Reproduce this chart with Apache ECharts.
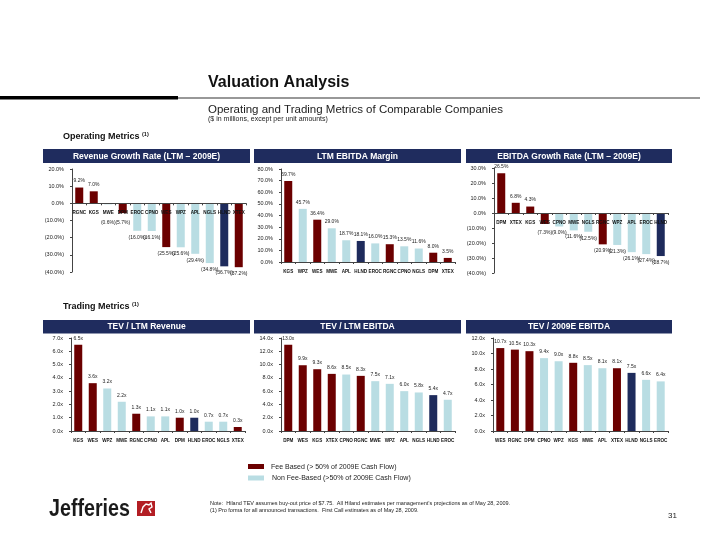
<!DOCTYPE html>
<html><head><meta charset="utf-8">
<script src="https://cdn.jsdelivr.net/npm/echarts@6/dist/echarts.min.js"></script>
<style>html,body{margin:0;padding:0;background:#fff}#c{width:720px;height:556px}</style>
</head><body><div id="c"></div>
<script>
// ---- data ----
const feeBased = ['RGNC','KGS','DPM','WES','XTEX'];
const subjectCo = ['HLND'];

const revGrowthCats = ['RGNC','KGS','MWE','DPM','EROC','CPNO','WES','WPZ','APL','NGLS','HLND','XTEX'];
const revGrowthVals = [9.2,7.0,-0.6,-5.7,-16.0,-16.1,-25.5,-25.6,-29.4,-34.8,-36.7,-37.2];
const marginCats = ['KGS','WPZ','WES','MWE','APL','HLND','EROC','RGNC','CPNO','NGLS','DPM','XTEX'];
const marginVals = [69.7,45.7,36.4,29.0,18.7,18.1,16.0,15.3,13.5,11.6,8.0,3.5];
const ebitdaGrowthCats = ['DPM','XTEX','KGS','WES','CPNO','MWE','NGLS','RGNC','WPZ','APL','EROC','HLND'];
const ebitdaGrowthVals = [26.5,6.8,4.3,-7.3,-9.0,-11.6,-12.5,-20.9,-21.3,-26.1,-27.4,-28.7];
const tevRevCats = ['KGS','WES','WPZ','MWE','RGNC','CPNO','APL','DPM','HLND','EROC','NGLS','XTEX'];
const tevRevVals = [6.5,3.6,3.2,2.2,1.3,1.1,1.1,1.0,1.0,0.7,0.7,0.3];
const tevLtmCats = ['DPM','WES','KGS','XTEX','CPNO','RGNC','MWE','WPZ','APL','NGLS','HLND','EROC'];
const tevLtmVals = [13.0,9.9,9.3,8.6,8.5,8.3,7.5,7.1,6.0,5.8,5.4,4.7];
const tev09Cats = ['WES','RGNC','DPM','CPNO','WPZ','KGS','MWE','APL','XTEX','HLND','NGLS','EROC'];
const tev09Vals = [10.7,10.5,10.3,9.4,9.0,8.8,8.5,8.1,8.1,7.5,6.6,6.4];

const panelTitles = ['Revenue Growth Rate (LTM \u2013 2009E)','LTM EBITDA Margin','EBITDA Growth Rate (LTM \u2013 2009E)',
  'TEV / LTM Revenue','TEV / LTM EBITDA','TEV / 2009E EBITDA'];
const legendLabels = ['Fee Based (> 50% of 2009E Cash Flow)','Non Fee-Based (>50% of 2009E Cash Flow)'];

// ---- styles ----
const RED = '#6B0000', BLUE = '#B9DDE3', NAVY = '#1E2B5C', HEAD = '#1F2C5E';
const FONT = '"Liberation Sans", Arial, sans-serif';

function colorOf(c){ return feeBased.includes(c) ? RED : (subjectCo.includes(c) ? NAVY : BLUE); }
function pct(v){ return v < 0 ? '(' + Math.abs(v).toFixed(1) + '%)' : v.toFixed(1) + '%'; }
function mult(v){ return v.toFixed(1) + 'x'; }

const panels = [
  {cats: revGrowthCats, vals: revGrowthVals, fmt: pct, min:-40, max:20, interval:10, grid:{left:72, top:169, width:174, height:103}, minBelow:19.5},
  {cats: marginCats, vals: marginVals, fmt: pct, min:0, max:80, interval:10, grid:{left:281, top:169, width:174, height:93}},
  {cats: ebitdaGrowthCats, vals: ebitdaGrowthVals, fmt: pct, min:-40, max:30, interval:10, grid:{left:494, top:168, width:174, height:105}, minBelow:20},
  {cats: tevRevCats, vals: tevRevVals, fmt: mult, min:0, max:7, interval:1, grid:{left:71, top:338, width:174, height:93}},
  {cats: tevLtmCats, vals: tevLtmVals, fmt: mult, min:0, max:14, interval:2, grid:{left:281, top:338, width:174, height:93}},
  {cats: tev09Cats, vals: tev09Vals, fmt: mult, min:0, max:12, interval:2, grid:{left:493, top:338, width:175, height:93}}
];

const grids = [], xAxes = [], yAxes = [], series = [];
panels.forEach((p, i) => {
  grids.push(p.grid);
  // place the category axis on the zero line (distance of zero from the grid bottom)
  const zeroOffset = -p.grid.height * (0 - p.min) / (p.max - p.min);
  xAxes.push({type:'category', gridIndex:i, data:p.cats, z:5, position:'bottom', offset: zeroOffset,
    axisLine:{onZero:false, lineStyle:{color:'#444', width:1}},
    axisTick:{show:true, length:2, lineStyle:{color:'#444'}},
    axisLabel:{fontSize:4.6, fontWeight:'bold', color:'#111', margin:7, fontFamily:FONT, interval:0}});
  yAxes.push({type:'value', gridIndex:i, min:p.min, max:p.max, interval:p.interval,
    splitLine:{show:false},
    axisLine:{show:true, onZero:false, lineStyle:{color:'#444', width:1}},
    axisTick:{show:true, length:2, inside:false, lineStyle:{color:'#444'}},
    axisLabel:{fontSize:5.5, color:'#222', margin:8, fontFamily:FONT, formatter:p.fmt}});
  const minBelow = p.minBelow;
  series.push({type:'bar', xAxisIndex:i, yAxisIndex:i, barWidth:8,
    data: p.vals.map((v, k) => ({value:v, itemStyle:{color:colorOf(p.cats[k])},
      label:{position: v < 0 ? 'bottom' : 'top'}})),
    label:{show:true, fontSize:5, color:'#222', distance:4, fontFamily:FONT,
      formatter: (d) => p.fmt(d.value)},
    labelLayout: minBelow ? function(params){
      const r = params.rect, lr = params.labelRect;
      if (lr.y > r.y + 1) {
        const center = lr.y + lr.height/2;
        const target = r.y + minBelow;
        if (center < target) return {dy: target - center};
      }
      return {};
    } : undefined,
    animation:false});
});

// ---- page graphics (text is real text) ----
const g = [];
function txt(x, y, s, size, opt, extra){
  g.push(Object.assign({type:'text', x:x, y:y, style:Object.assign({text:s, fontSize:size, fontFamily:FONT, fill:'#111',
    textVerticalAlign:'middle', textAlign:'left'}, opt||{})}, extra||{}));
}
// title and rules
txt(208, 83, 'Valuation Analysis', 16, {fontWeight:'bold'});
g.push({type:'rect', shape:{x:178, y:97.5, width:522, height:1}, style:{fill:'#333'}});
g.push({type:'rect', shape:{x:0, y:96, width:178, height:3.6}, style:{fill:'#000'}});
txt(208, 109.5, 'Operating and Trading Metrics of Comparable Companies', 11.5, {fill:'#222'});
txt(208, 118.8, '($ in millions, except per unit amounts)', 7, {fill:'#222'});
txt(63, 137, 'Operating Metrics', 9, {fontWeight:'bold'});
txt(142, 134.5, '(1)', 5.5, {fontWeight:'bold'});
txt(63, 307, 'Trading Metrics', 9, {fontWeight:'bold'});
txt(132, 304.5, '(1)', 5.5, {fontWeight:'bold'});
// panel headers
const headX = [[43,250],[254,461],[466,672]];
const headY = [[149,14],[320,13.5]];
panelTitles.forEach((t, i) => {
  const hx = headX[i % 3], hy = headY[Math.floor(i / 3)];
  g.push({type:'rect', shape:{x:hx[0], y:hy[0], width:hx[1]-hx[0], height:hy[1]}, style:{fill:HEAD}});
  txt((hx[0]+hx[1])/2, hy[0] + hy[1]/2 + 0.3, t, 8.5, {fontWeight:'bold', fill:'#fff', textAlign:'center'});
});
// legend
g.push({type:'rect', shape:{x:248, y:464, width:16, height:5}, style:{fill:RED}});
txt(271, 466.6, legendLabels[0], 7, {fill:'#222'});
g.push({type:'rect', shape:{x:248, y:475.5, width:16, height:5}, style:{fill:BLUE}});
txt(272, 478, legendLabels[1], 7, {fill:'#222'});
// footer
txt(49, 509.5, 'Jefferies', 24, {fontWeight:'bold', fill:'#1a1a1a'}, {scaleX:0.82, scaleY:1});
g.push({type:'rect', shape:{x:137, y:501, width:18, height:15}, style:{fill:'#B31E24'}});
g.push({type:'polyline', shape:{points:[[141,513],[143,507],[146,504],[149,505],[151,503],[152,507],[149,509],[151,513]]}, style:{stroke:'#fff', lineWidth:1.4, fill:null}});
txt(210, 503, 'Note:  Hiland TEV assumes buy-out price of $7.75.  All Hiland estimates per management\u2019s projections as of May 28, 2009.', 5.5, {fill:'#222'});
txt(210, 510.5, '(1) Pro forma for all announced transactions.  First Call estimates as of May 28, 2009.', 5.5, {fill:'#222'});
txt(668, 516, '31', 8, {fill:'#222'});

const chart = echarts.init(document.getElementById('c'));
chart.setOption({animation:false, backgroundColor:'#fff', grid:grids, xAxis:xAxes, yAxis:yAxes, series:series, graphic:g});
</script></body></html>
